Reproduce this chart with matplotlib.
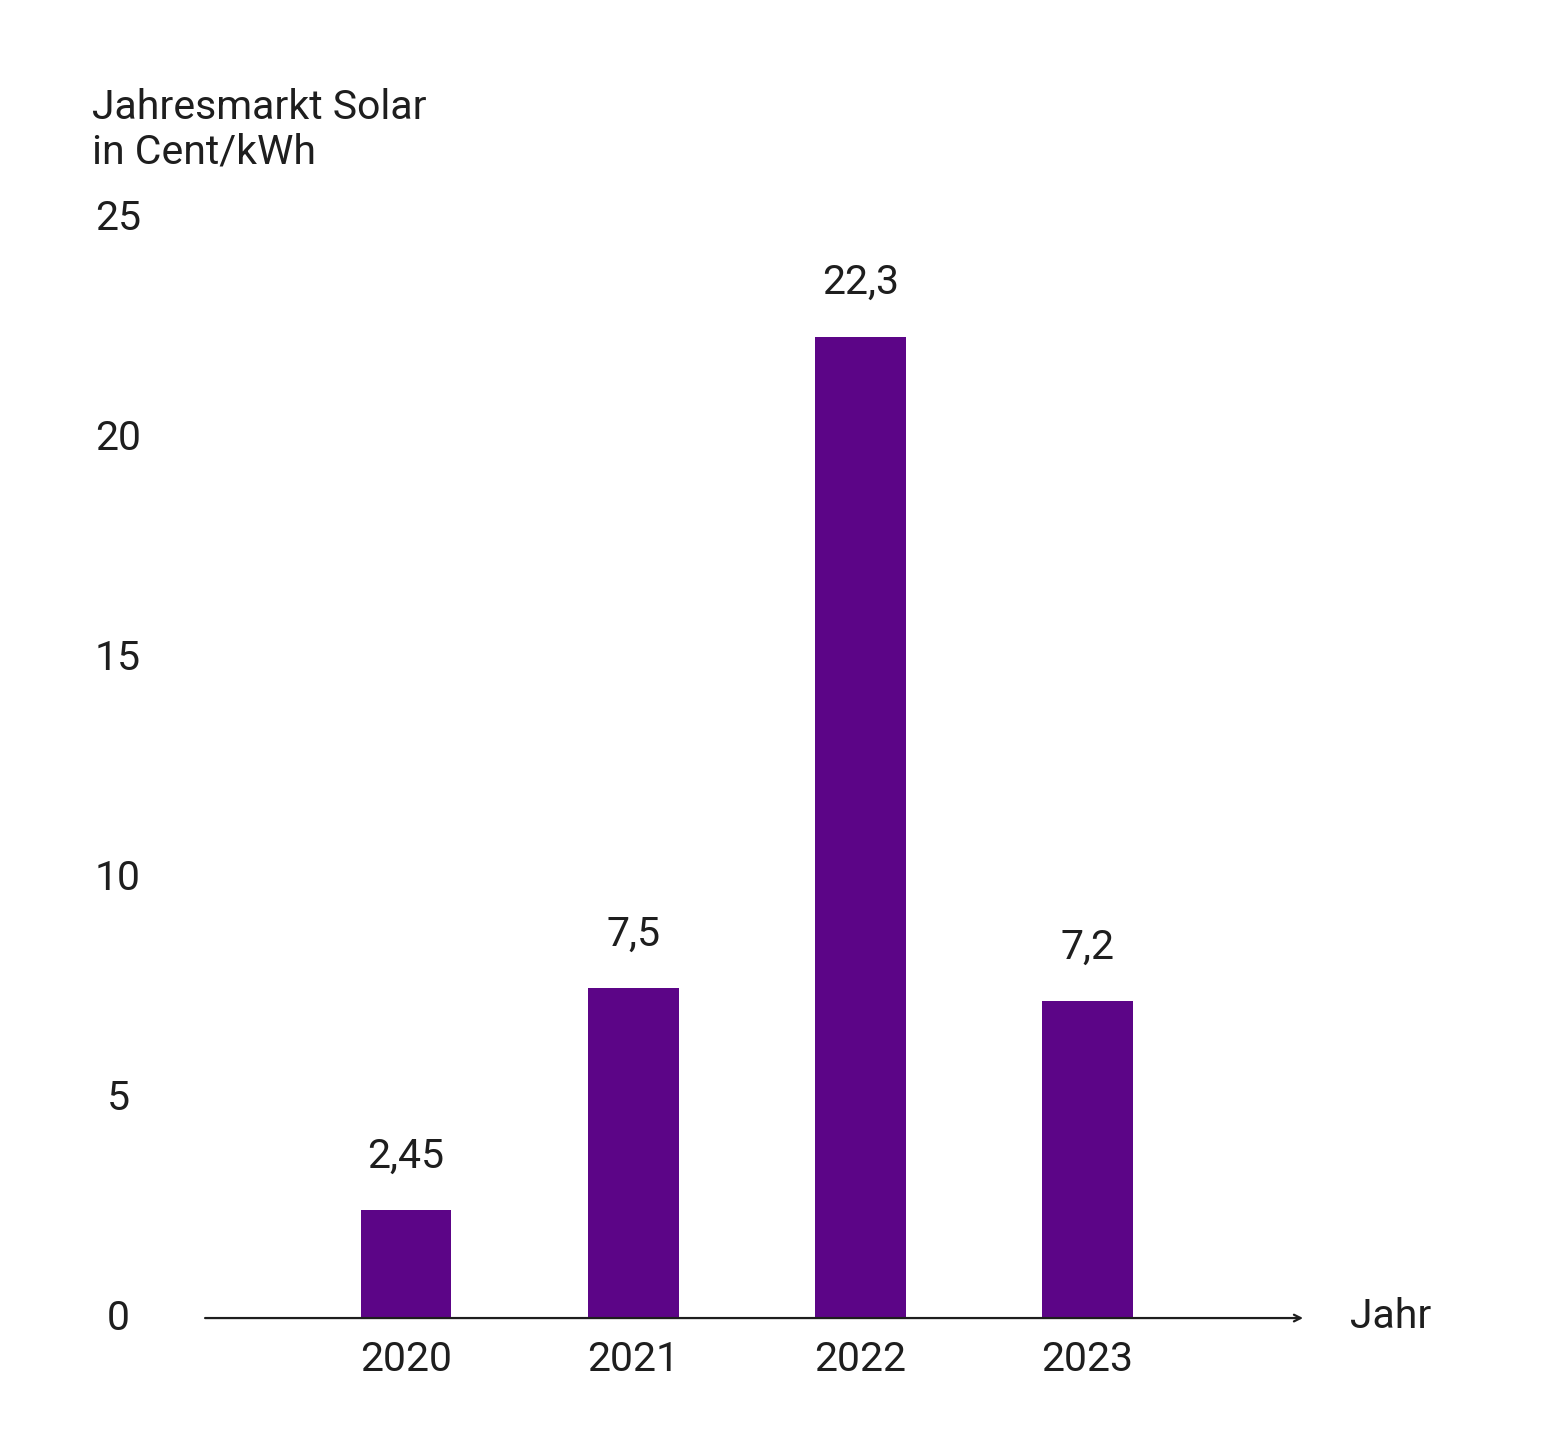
import matplotlib.pyplot as plt
from matplotlib.transforms import blended_transform_factory

plt.rcParams['font.family'] = ['Roboto', 'DejaVu Sans']

# data
years = ['2020', '2021', '2022', '2023']
prices = [2.45, 7.5, 22.3, 7.2]
price_labels = ['2,45', '7,5', '22,3', '7,2']
yticks = [0, 5, 10, 15, 20, 25]

bar_color = '#5c0587'
text_color = '#1e1e1e'
fs = 29.5

fig = plt.figure(figsize=(15.63, 14.5), dpi=100)
ax = fig.add_axes([0.1312, 0.0910, 0.7025, 0.7586])

x = list(range(len(years)))
ax.bar(x, prices, width=0.4, color=bar_color, zorder=2)

# value labels above bars
for xi, val, lab in zip(x, prices, price_labels):
    ax.annotate(lab, (xi, val), xytext=(0, 25), textcoords='offset points',
                ha='center', va='bottom', fontsize=fs, color=text_color)

ax.set_xlim(-0.885, 3.95)
ax.set_ylim(0, 25)

# hide the default axes, draw own
for s in ax.spines.values():
    s.set_visible(False)
ax.set_yticks([])
ax.set_xticks(x)
ax.set_xticklabels(years, fontsize=fs, color=text_color)
ax.tick_params(axis='x', length=0, pad=16)

# x axis line with arrow
ax.annotate('', xy=(3.95, 0), xytext=(-0.885, 0), xycoords='data',
            arrowprops=dict(arrowstyle='->', color=text_color, lw=1.6,
                            shrinkA=0, shrinkB=0, mutation_scale=12),
            annotation_clip=False, zorder=3)

# y tick labels
trans = blended_transform_factory(fig.transFigure, ax.transData)
for t in yticks:
    ax.text(118 / 1563, t, str(t), transform=trans, ha='center', va='center',
            fontsize=fs, color=text_color)

# axis titles
fig.text(92 / 1563, 1 - 119 / 1450, 'Jahresmarkt Solar', ha='left', va='baseline',
         fontsize=fs, color=text_color)
fig.text(92 / 1563, 1 - 164 / 1450, 'in Cent/kWh', ha='left', va='baseline',
         fontsize=fs, color=text_color)
fig.text(1350 / 1563, 1 - 1328 / 1450, 'Jahr', ha='left', va='baseline',
         fontsize=fs, color=text_color)

fig.savefig('out.png', dpi=100, facecolor='white')
